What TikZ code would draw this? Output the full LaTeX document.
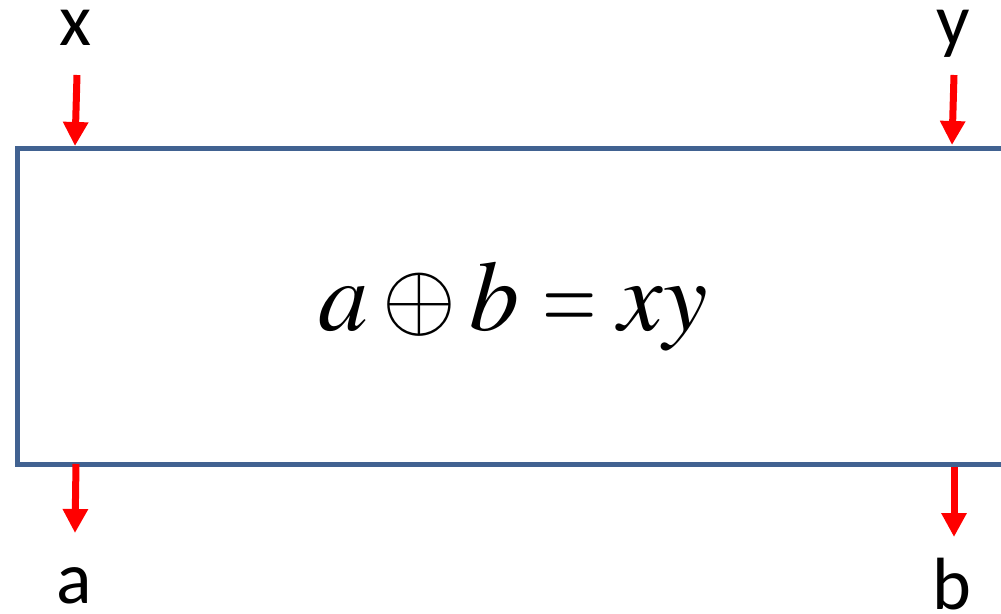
\documentclass[tikz,border=0pt]{standalone}
\usepackage{mathptmx}
\usepackage{fontspec}
\setmainfont{Carlito}
\usetikzlibrary{arrows.meta}
\definecolor{boxblue}{RGB}{65,98,145}
\newcommand{\myoplus}{\mathbin{\vcenter{\hbox{\scalebox{0.95}{$\oplus$}}}}}
\newcommand{\myeq}{\mathrel{\scalebox{0.7}[1]{$=$}}}
\tikzset{
  lbl/.style={font=\fontsize{74}{80}\selectfont, inner sep=0pt, anchor=base},
  redarrow/.style={draw=red, line width=7pt, -{Triangle[width=24pt,length=24pt]}}
}
\begin{document}
\begin{tikzpicture}[x=1pt,y=-1pt]
\useasboundingbox (0,0) rectangle (1001,613);
\begin{scope}
\clip (0,0) rectangle (1001,613);
\node[draw=boxblue, line width=4.5pt, minimum width=1000pt, minimum height=316pt, inner sep=0pt, anchor=north west] (box) at (15,146) {};
\end{scope}
\node[font=\fontsize{100}{120}\selectfont, inner sep=0pt, anchor=base] (eq) at (513,330) {$a\myoplus b\myeq xy$};
\node[lbl] (x) at (76,45) {x};
\node[lbl] (y) at (953,45) {y};
\node[lbl] (a) at (74,603) {a};
\node[lbl] (b) at (952,609) {b};
\coordinate (x1) at (77,75);
\coordinate (x2) at (75,146);
\coordinate (y1) at (954,75);
\coordinate (y2) at (952,145);
\coordinate (a1) at (76,464);
\coordinate (a2) at (75,533);
\coordinate (b1) at (954,467);
\coordinate (b2) at (954,537);
\draw[redarrow] (x1) -- (x2);
\draw[redarrow] (y1) -- (y2);
\draw[redarrow] (a1) -- (a2);
\draw[redarrow] (b1) -- (b2);
\end{tikzpicture}
\end{document}
